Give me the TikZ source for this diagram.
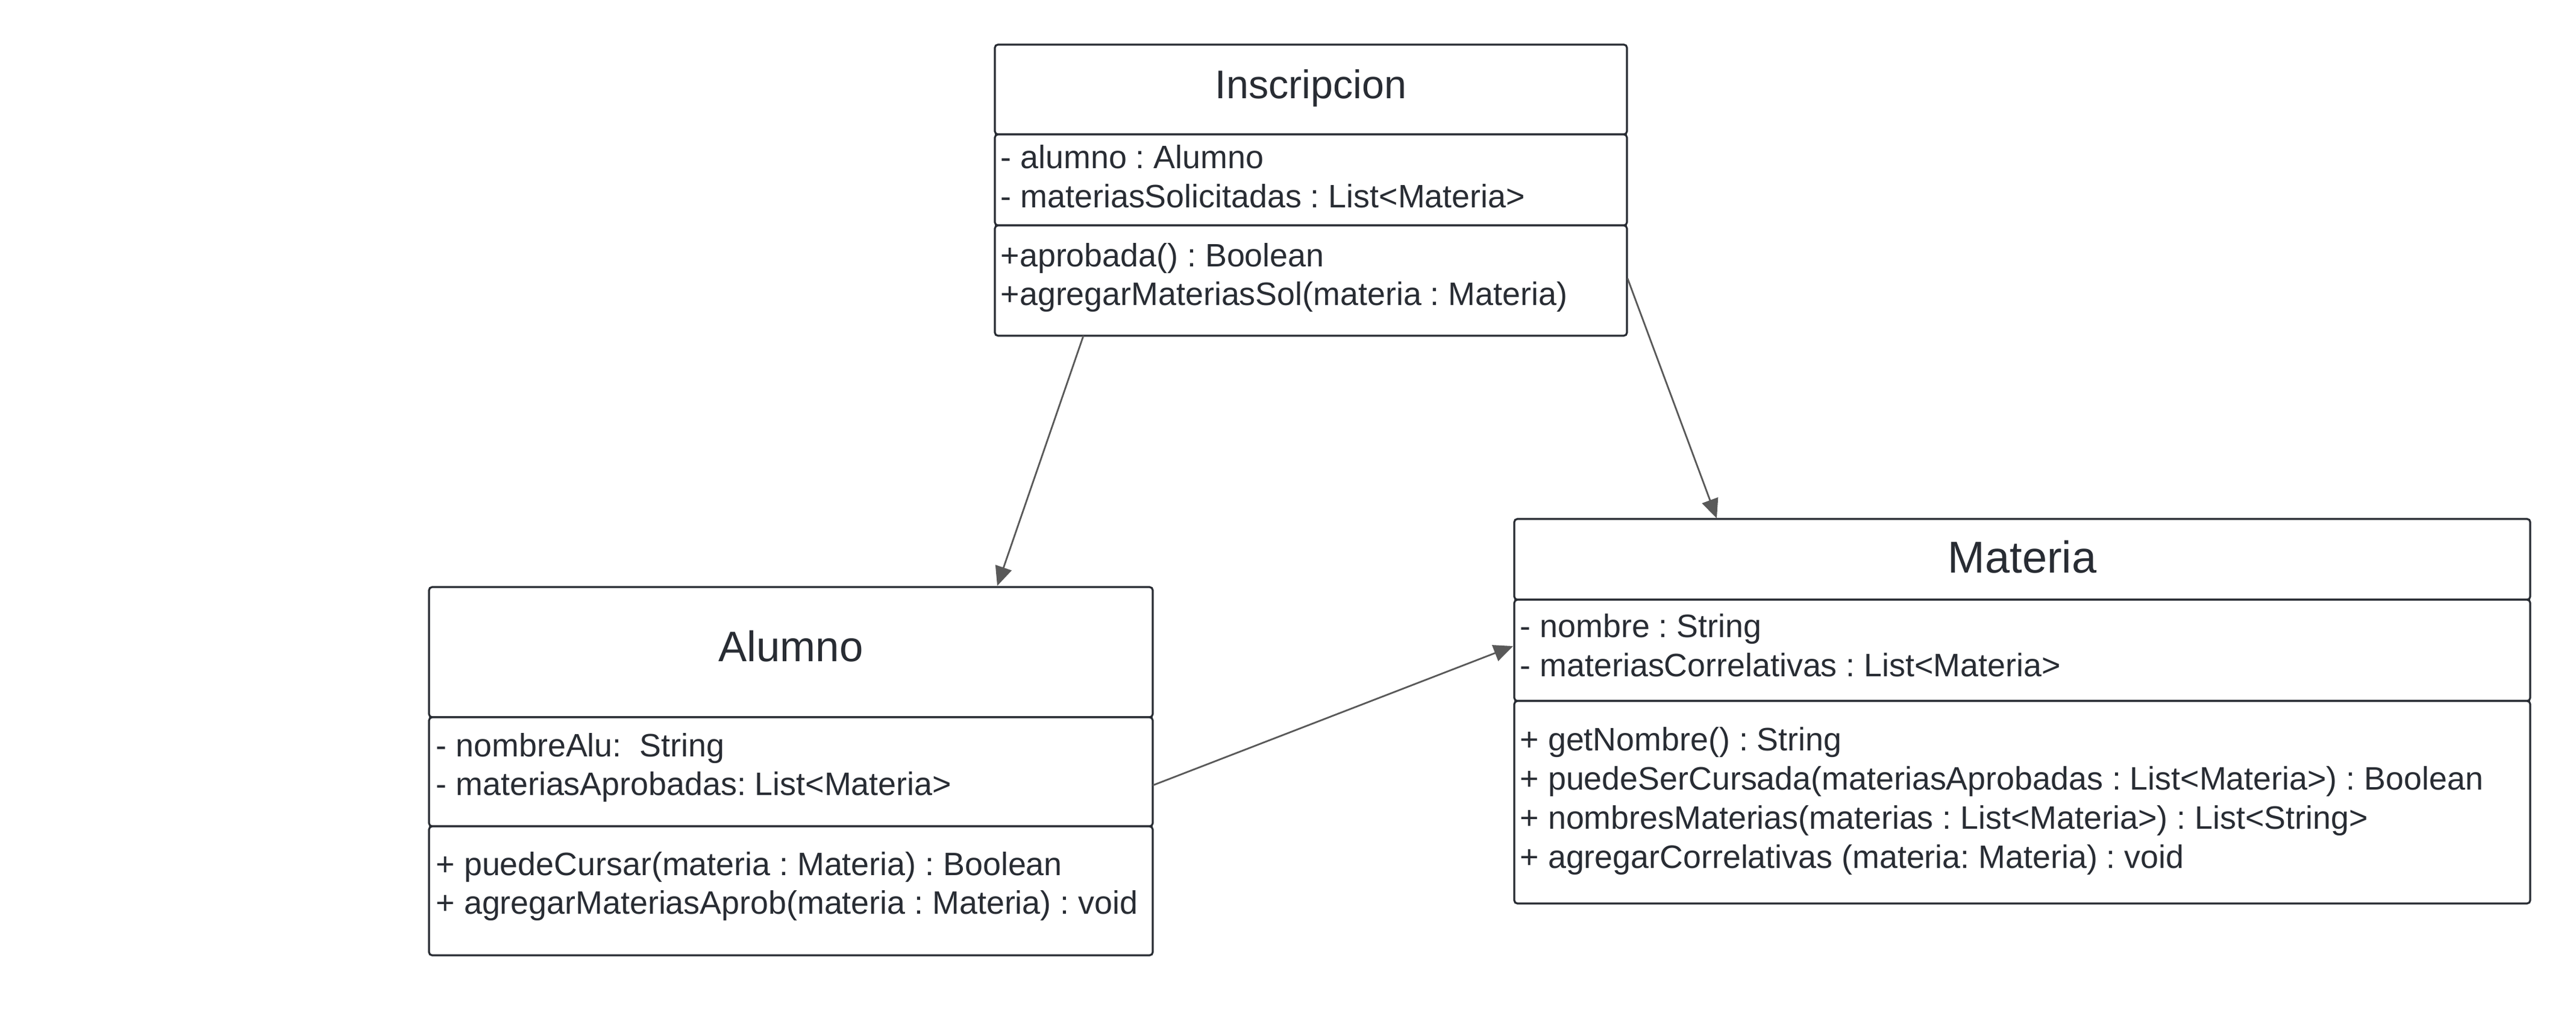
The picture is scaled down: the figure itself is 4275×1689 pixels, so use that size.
\documentclass[tikz,border=0pt]{standalone}
\usepackage{fontspec}
\setmainfont{Liberation Sans}
\usetikzlibrary{arrows.meta}
\definecolor{boxc}{HTML}{282C33}
\definecolor{arrc}{HTML}{595959}
\tikzset{
  comp/.style={draw=boxc, line width=0.8pt, rounded corners=1.3pt, fill=white},
  body/.style={anchor=base west, inner sep=0pt, text=boxc, font=\fontsize{13.45}{15}\selectfont},
  ttl/.style={anchor=base, inner sep=0pt, text=boxc},
  assoc/.style={draw=arrc, line width=0.7pt, -{Triangle[length=8pt,width=7pt]}},
}
\frenchspacing
\begin{document}
\begin{tikzpicture}[x=0.25pt,y=-0.25pt]
\useasboundingbox (0,0) rectangle (4275,1689);
% Inscripcion
\draw[comp] (1651,74) rectangle (2700,223);
\draw[comp] (1651,223) rectangle (2700,374);
\draw[comp] (1651,374) rectangle (2700,557);
\node[ttl, font=\fontsize{16.6}{19}\selectfont] (insT) at (2175.5,164) {Inscripcion};
\node[body] (insA1) at (1660,280) {- alumno : Alumno};
\node[body] (insA2) at (1660,345) {- materiasSolicitadas : List<Materia>};
\node[body] (insM1) at (1660,443) {+aprobada() : Boolean};
\node[body] (insM2) at (1660,507) {+agregarMateriasSol(materia : Materia)};
% Alumno
\draw[comp] (712,974) rectangle (1913,1190);
\draw[comp] (712,1190) rectangle (1913,1371);
\draw[comp] (712,1371) rectangle (1913,1585);
\node[ttl, font=\fontsize{17.7}{20}\selectfont] (aluT) at (1312.5,1097) {Alumno};
\node[body] (aluA1) at (723,1255) {- nombreAlu:\ \ String};
\node[body] (aluA2) at (723,1319) {- materiasAprobadas: List<Materia>};
\node[body] (aluM1) at (723,1452) {+ puedeCursar(materia : Materia) : Boolean};
\node[body] (aluM2) at (723,1516) {+ agregarMateriasAprob(materia : Materia) : void};
% Materia
\draw[comp] (2513,861) rectangle (4199,995);
\draw[comp] (2513,995) rectangle (4199,1163);
\draw[comp] (2513,1163) rectangle (4199,1499);
\node[ttl, font=\fontsize{18.5}{21}\selectfont] (matT) at (3356,950) {Materia};
\node[body] (matA1) at (2522,1057) {- nombre : String};
\node[body] (matA2) at (2522,1122) {- materiasCorrelativas : List<Materia>};
\node[body] (matM1) at (2522,1245) {+ getNombre() : String};
\node[body] (matM2) at (2522,1310) {+ puedeSerCursada(materiasAprobadas : List<Materia>) : Boolean};
\node[body] (matM3) at (2522,1375) {+ nombresMaterias(materias : List<Materia>) : List<String>};
\node[body] (matM4) at (2522,1440) {+ agregarCorrelativas (materia: Materia) : void};
% connector end points
\coordinate (insB) at (1798,557);
\coordinate (aluTop) at (1655,972);
\coordinate (insR) at (2701,462);
\coordinate (matTop) at (2849,860);
\coordinate (aluR) at (1913,1303);
\coordinate (matL) at (2511,1072);
\draw[assoc] (insB) -- (aluTop);
\draw[assoc] (insR) -- (matTop);
\draw[assoc] (aluR) -- (matL);
\end{tikzpicture}
\end{document}
